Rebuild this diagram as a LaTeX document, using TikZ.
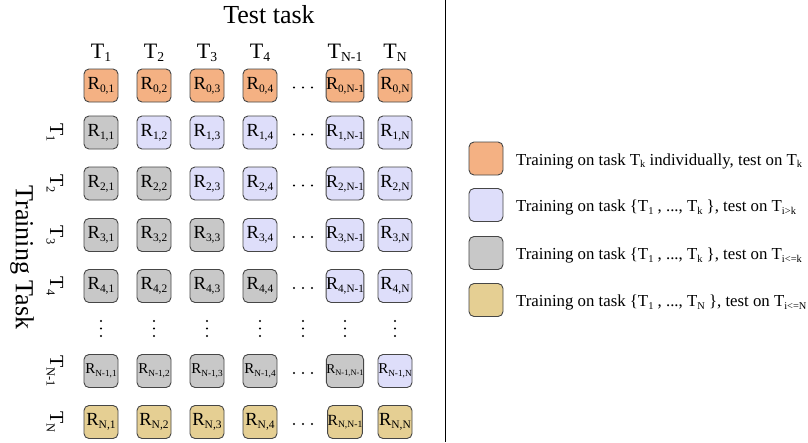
\documentclass[tikz,border=0pt]{standalone}
\usepackage{fontspec}
\setmainfont{Liberation Serif}
\usepackage{graphicx}
\newcommand\lsub[1]{\raisebox{-0.17em}{\scalebox{0.62}{#1}}}
\definecolor{cOr}{RGB}{244,177,131}
\definecolor{cLav}{RGB}{222,222,250}
\definecolor{cGr}{RGB}{200,200,200}
\definecolor{cTan}{RGB}{229,207,147}
\definecolor{bordc}{RGB}{70,70,70}
\begin{document}
\begin{tikzpicture}[x=1pt,y=-1pt,
  cell/.style={draw=bordc, line width=0.9pt, rounded corners=5pt, minimum width=34pt, minimum height=33pt, inner sep=0pt},
  hdr/.style={anchor=base, inner sep=0pt, font=\fontsize{22}{24}\selectfont},
  rowlbl/.style={anchor=base, rotate=-90, inner sep=0pt, font=\fontsize{20}{22}\selectfont},
  ttl/.style={anchor=base, inner sep=0pt, font=\fontsize{26}{28}\selectfont},
  legtxt/.style={anchor=base west, inner sep=0pt, font=\fontsize{16.8}{18}\selectfont},
  dotc/.style={fill=black}]
\fill[white] (0,0) rectangle (808,442);
\useasboundingbox (0,0) rectangle (808,442);

% titles
\node[ttl] (testtask) at (269,23) {Test task};
\node[ttl, rotate=-90] (traintask) at (16,257.5) {Training Task};

% column headers
\foreach \c/\x/\cs in {1/101/1, 2/154/2, 3/207/3, 4/260/4, 5/345/N-1, 6/395/N}{
  \node[hdr] (h\c) at (\x,58) {T\lsub{\cs}};
}
% row labels
\foreach \r/\y/\rs in {1/132.5/1, 2/183.5/2, 3/235/3, 4/286/4, 5/371/N-1, 6/422/N}{
  \node[rowlbl] (l\r) at (50,\y) {T\lsub{\rs}};
}

% cells
\foreach \r/\y/\rs in {0/85.5/0, 1/132.5/1, 2/183.5/2, 3/235/3, 4/286/4, 5/371/N-1, 6/422/N}{
  \foreach \c/\x/\cs in {1/101/1, 2/154/2, 3/207/3, 4/260/4, 5/345/N-1, 6/395/N}{
    \ifnum\r=0 \def\fc{cOr}\else\ifnum\r=6 \def\fc{cTan}\else\ifnum\c>\r \def\fc{cLav}\else\def\fc{cGr}\fi\fi\fi
    \def\fs{18.5}
    \ifnum\c=5 \def\fs{18}\fi
    \ifnum\r=5 \def\fs{15}\ifnum\c=5 \def\fs{13.5}\fi\fi
    \ifnum\r=6 \ifnum\c=5 \def\fs{15.5}\fi\fi
    \node[cell, fill=\fc, font=\fontsize{\fs}{\fs}\selectfont] (c\r\c) at (\x,\y) {R\lsub{\rs,\cs}};
  }
}

% horizontal dots
\foreach \y in {85.5, 132.5, 183.5, 235, 286, 371, 422}{
  \foreach \dx in {-9,0,9}{
    \fill[dotc] (303+\dx,\y+2) circle (1.15pt);
  }
}
% vertical dots
\foreach \x in {101,154,207,260,303,345,395}{
  \foreach \dy in {321,328.5,336}{
    \fill[dotc] (\x,\dy) circle (1.15pt);
  }
}

% separator
\coordinate (septop) at (445,0);
\coordinate (sepbot) at (445,442);
\draw[line width=0.9pt] (septop) -- (sepbot);

% legend
\node[cell, fill=cOr] (k1) at (486,158.5) {};
\node[cell, fill=cLav] (k2) at (486,205) {};
\node[cell, fill=cGr] (k3) at (486,253) {};
\node[cell, fill=cTan] (k4) at (486,300) {};
\node[legtxt] (t1) at (516,165) {Training on task T\lsub{k} individually, test on T\lsub{k}};
\node[legtxt] (t2) at (516,211.5) {Training on task \{T\lsub{1} , ..., T\lsub{k} \}, test on T\lsub{i>k}};
\node[legtxt] (t3) at (516,259.5) {Training on task \{T\lsub{1} , ..., T\lsub{k} \}, test on T\lsub{i<=k}};
\node[legtxt] (t4) at (516,306.5) {Training on task \{T\lsub{1} , ..., T\lsub{N} \}, test on T\lsub{i<=N}};
\end{tikzpicture}
\end{document}
